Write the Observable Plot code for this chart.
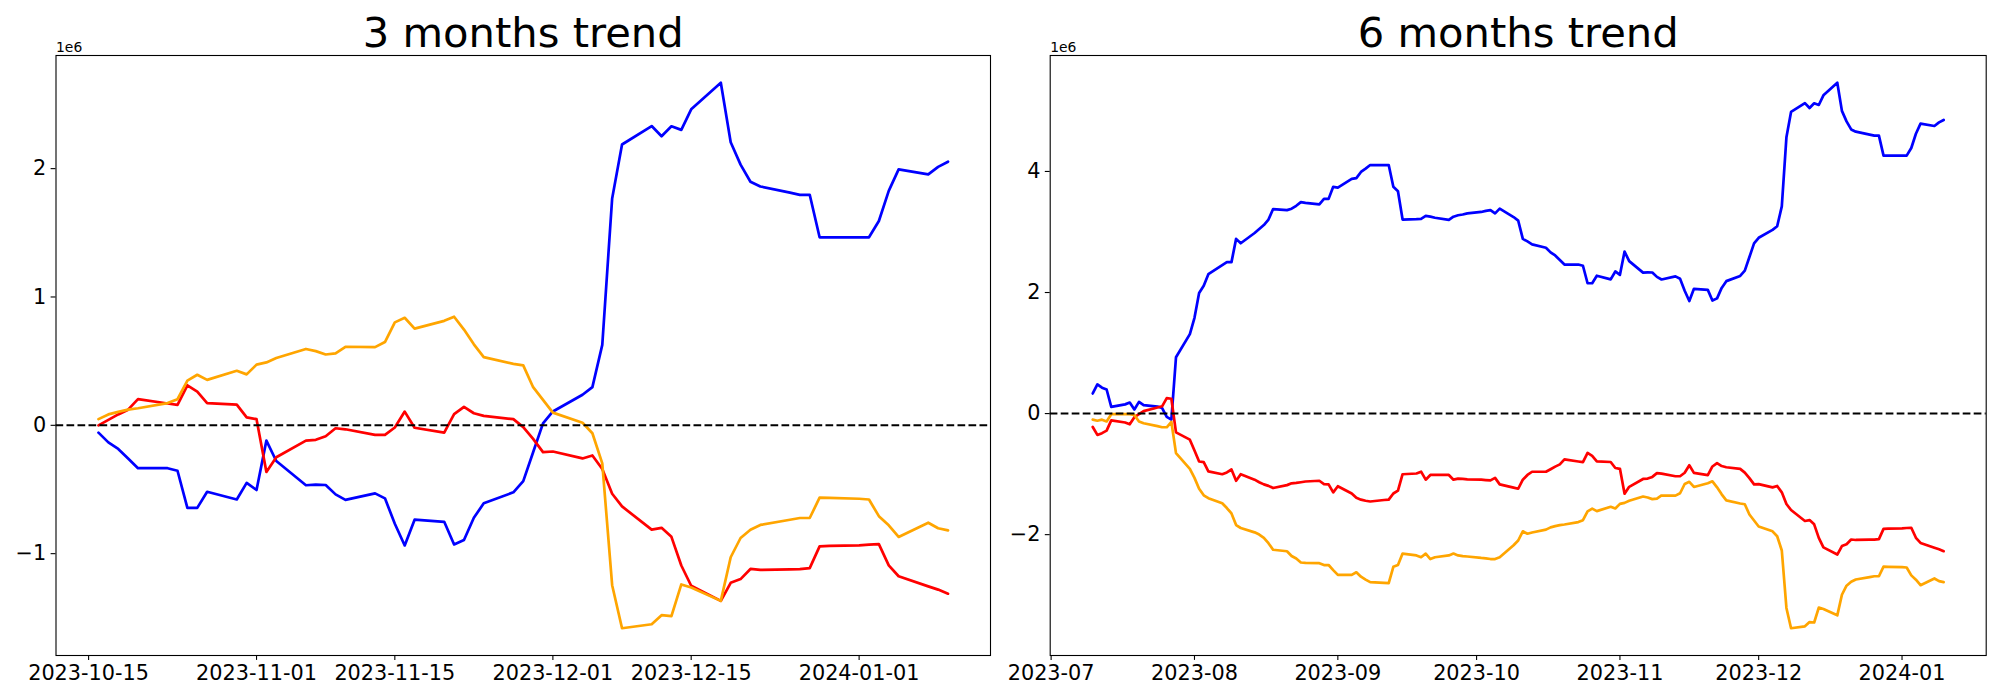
<!DOCTYPE html>
<html><head><meta charset="utf-8">
<script src="https://cdn.jsdelivr.net/npm/d3@7"></script>
<script src="https://cdn.jsdelivr.net/npm/@observablehq/plot@0.6"></script>
<style>
html,body{margin:0;padding:0;background:#fff;}
#wrap{display:flex;width:2000px;height:700px;}
</style></head><body><div id="wrap"></div>
<script>
// ---------- 3 months panel ----------
const dates3 = [
"2023-10-16","2023-10-17","2023-10-18","2023-10-19","2023-10-20",
"2023-10-23","2023-10-24","2023-10-25","2023-10-26","2023-10-27",
"2023-10-30","2023-10-31","2023-11-01","2023-11-02","2023-11-03",
"2023-11-06","2023-11-07","2023-11-08","2023-11-09","2023-11-10",
"2023-11-13","2023-11-14","2023-11-15","2023-11-16","2023-11-17",
"2023-11-20","2023-11-21","2023-11-22","2023-11-23","2023-11-24",
"2023-11-27","2023-11-28","2023-11-29","2023-11-30","2023-12-01",
"2023-12-04","2023-12-05","2023-12-06","2023-12-07","2023-12-08",
"2023-12-11","2023-12-12","2023-12-13","2023-12-14","2023-12-15",
"2023-12-18","2023-12-19","2023-12-20","2023-12-21","2023-12-22",
"2023-12-25","2023-12-26","2023-12-27","2023-12-28","2023-12-29",
"2024-01-01","2024-01-02","2024-01-03","2024-01-04","2024-01-05",
"2024-01-08","2024-01-09","2024-01-10"];
const blue3 = [
-0.057,-0.133,-0.184,-0.258,-0.334,
-0.334,-0.354,-0.643,-0.643,-0.518,
-0.578,-0.448,-0.504,-0.119,-0.278,
-0.467,-0.462,-0.465,-0.538,-0.581,
-0.530,-0.569,-0.767,-0.936,-0.735,
-0.752,-0.928,-0.893,-0.720,-0.608,
-0.522,-0.435,-0.210,0.015,0.108,
0.238,0.298,0.627,1.768,2.188,
2.332,2.252,2.330,2.302,2.462,
2.669,2.205,2.031,1.898,1.861,
1.813,1.796,1.796,1.465,1.465,
1.465,1.465,1.592,1.827,1.994,
1.955,2.014,2.054];
const red3 = [
0.000,0.042,0.085,0.122,0.204,
0.170,0.159,0.312,0.263,0.173,
0.161,0.062,0.048,-0.363,-0.249,
-0.119,-0.113,-0.085,-0.023,-0.031,
-0.074,-0.074,-0.017,0.107,-0.019,
-0.057,0.087,0.143,0.094,0.074,
0.048,-0.014,-0.106,-0.209,-0.204,
-0.258,-0.235,-0.340,-0.533,-0.632,
-0.813,-0.799,-0.869,-1.092,-1.250,
-1.368,-1.227,-1.198,-1.119,-1.127,
-1.122,-1.120,-1.113,-0.943,-0.940,
-0.935,-0.929,-0.926,-1.091,-1.176,
-1.255,-1.280,-1.312];
const orange3 = [
0.048,0.085,0.105,0.122,0.133,
0.173,0.204,0.348,0.394,0.354,
0.425,0.397,0.473,0.490,0.524,
0.595,0.578,0.552,0.561,0.612,
0.609,0.649,0.802,0.838,0.753,
0.814,0.846,0.746,0.631,0.531,
0.479,0.467,0.297,0.198,0.099,
0.020,-0.062,-0.297,-1.246,-1.581,
-1.550,-1.479,-1.486,-1.240,-1.264,
-1.368,-1.028,-0.878,-0.813,-0.776,
-0.736,-0.722,-0.722,-0.564,-0.566,
-0.572,-0.578,-0.708,-0.779,-0.870,
-0.759,-0.802,-0.819];
const xTicks3 = ["2023-10-15","2023-11-01","2023-11-15","2023-12-01","2023-12-15","2024-01-01"];
const yTicks3 = [-1, 0, 1, 2];

// ---------- 6 months panel ----------
const dates6 = [
"2023-07-10","2023-07-11","2023-07-12","2023-07-13","2023-07-14",
"2023-07-17","2023-07-18","2023-07-19","2023-07-20","2023-07-21",
"2023-07-24","2023-07-25","2023-07-26","2023-07-27","2023-07-28",
"2023-07-31","2023-08-01","2023-08-02","2023-08-03","2023-08-04",
"2023-08-07","2023-08-08","2023-08-09","2023-08-10","2023-08-11",
"2023-08-14","2023-08-15","2023-08-16","2023-08-17","2023-08-18",
"2023-08-21","2023-08-22","2023-08-23","2023-08-24","2023-08-25",
"2023-08-28","2023-08-29","2023-08-30","2023-08-31","2023-09-01",
"2023-09-04","2023-09-05","2023-09-06","2023-09-07","2023-09-08",
"2023-09-11","2023-09-12","2023-09-13","2023-09-14","2023-09-15",
"2023-09-18","2023-09-19","2023-09-20","2023-09-21","2023-09-22",
"2023-09-25","2023-09-26","2023-09-27","2023-09-28","2023-09-29",
"2023-10-02","2023-10-03","2023-10-04","2023-10-05","2023-10-06",
"2023-10-09","2023-10-10","2023-10-11","2023-10-12","2023-10-13",
"2023-10-16","2023-10-17","2023-10-18","2023-10-19","2023-10-20",
"2023-10-23","2023-10-24","2023-10-25","2023-10-26","2023-10-27",
"2023-10-30","2023-10-31","2023-11-01","2023-11-02","2023-11-03",
"2023-11-06","2023-11-07","2023-11-08","2023-11-09","2023-11-10",
"2023-11-13","2023-11-14","2023-11-15","2023-11-16","2023-11-17",
"2023-11-20","2023-11-21","2023-11-22","2023-11-23","2023-11-24",
"2023-11-27","2023-11-28","2023-11-29","2023-11-30","2023-12-01",
"2023-12-04","2023-12-05","2023-12-06","2023-12-07","2023-12-08",
"2023-12-11","2023-12-12","2023-12-13","2023-12-14","2023-12-15",
"2023-12-18","2023-12-19","2023-12-20","2023-12-21","2023-12-22",
"2023-12-25","2023-12-26","2023-12-27","2023-12-28","2023-12-29",
"2024-01-01","2024-01-02","2024-01-03","2024-01-04","2024-01-05",
"2024-01-08","2024-01-09","2024-01-10"];
const blue6 = [
0.332,0.483,0.428,0.398,0.110,
0.152,0.182,0.068,0.194,0.140,
0.116,0.092,-0.055,-0.100,0.930,
1.312,1.582,1.991,2.111,2.303,
2.454,2.502,2.502,2.886,2.814,
2.983,3.049,3.115,3.205,3.379,
3.361,3.385,3.433,3.493,3.481,
3.457,3.547,3.547,3.746,3.734,
3.878,3.890,3.992,4.046,4.106,
4.106,4.106,3.746,3.674,3.205,
3.211,3.217,3.265,3.253,3.235,
3.199,3.253,3.277,3.289,3.307,
3.331,3.349,3.361,3.307,3.385,
3.247,3.187,2.886,2.844,2.796,
2.739,2.663,2.612,2.538,2.462,
2.462,2.442,2.153,2.153,2.278,
2.218,2.348,2.292,2.677,2.518,
2.329,2.334,2.331,2.258,2.215,
2.266,2.227,2.029,1.860,2.061,
2.044,1.868,1.903,2.076,2.188,
2.274,2.361,2.586,2.811,2.904,
3.034,3.094,3.423,4.564,4.984,
5.128,5.048,5.126,5.098,5.258,
5.465,5.001,4.827,4.694,4.657,
4.609,4.592,4.592,4.261,4.261,
4.261,4.261,4.388,4.623,4.790,
4.751,4.810,4.850];
const red6 = [
-0.221,-0.353,-0.323,-0.281,-0.112,
-0.148,-0.178,-0.060,-0.010,0.040,
0.100,0.120,0.255,0.245,-0.311,
-0.431,-0.611,-0.791,-0.803,-0.954,
-1.002,-0.972,-0.924,-1.110,-1.002,
-1.092,-1.134,-1.170,-1.194,-1.230,
-1.182,-1.152,-1.146,-1.134,-1.122,
-1.110,-1.164,-1.170,-1.302,-1.200,
-1.320,-1.392,-1.422,-1.440,-1.452,
-1.428,-1.422,-1.320,-1.272,-1.002,
-0.990,-0.960,-1.092,-1.014,-1.014,
-1.014,-1.092,-1.074,-1.080,-1.086,
-1.092,-1.098,-1.104,-1.062,-1.170,
-1.224,-1.242,-1.092,-1.014,-0.961,
-0.961,-0.919,-0.876,-0.839,-0.757,
-0.791,-0.802,-0.649,-0.698,-0.788,
-0.800,-0.899,-0.913,-1.324,-1.210,
-1.080,-1.074,-1.046,-0.984,-0.992,
-1.035,-1.035,-0.978,-0.854,-0.980,
-1.018,-0.874,-0.818,-0.867,-0.887,
-0.913,-0.975,-1.067,-1.170,-1.165,
-1.219,-1.196,-1.301,-1.494,-1.593,
-1.774,-1.760,-1.830,-2.053,-2.211,
-2.329,-2.188,-2.159,-2.080,-2.088,
-2.083,-2.081,-2.074,-1.904,-1.901,
-1.896,-1.890,-1.887,-2.052,-2.137,
-2.216,-2.241,-2.273];
const orange6 = [
-0.100,-0.118,-0.100,-0.130,-0.010,
-0.010,-0.010,-0.022,-0.130,-0.160,
-0.208,-0.226,-0.226,-0.136,-0.653,
-0.912,-1.062,-1.242,-1.350,-1.398,
-1.482,-1.560,-1.650,-1.842,-1.890,
-1.962,-1.998,-2.052,-2.142,-2.250,
-2.274,-2.352,-2.394,-2.460,-2.466,
-2.472,-2.502,-2.502,-2.586,-2.664,
-2.664,-2.622,-2.694,-2.742,-2.784,
-2.796,-2.802,-2.532,-2.502,-2.313,
-2.343,-2.373,-2.313,-2.403,-2.373,
-2.343,-2.313,-2.343,-2.355,-2.361,
-2.385,-2.391,-2.403,-2.403,-2.373,
-2.175,-2.097,-1.945,-1.985,-1.965,
-1.917,-1.880,-1.860,-1.843,-1.832,
-1.792,-1.761,-1.617,-1.571,-1.611,
-1.540,-1.568,-1.492,-1.475,-1.441,
-1.370,-1.387,-1.413,-1.404,-1.353,
-1.356,-1.316,-1.163,-1.127,-1.212,
-1.151,-1.119,-1.219,-1.334,-1.434,
-1.486,-1.498,-1.668,-1.767,-1.866,
-1.945,-2.027,-2.262,-3.211,-3.546,
-3.515,-3.444,-3.451,-3.205,-3.229,
-3.333,-2.993,-2.843,-2.778,-2.741,
-2.701,-2.687,-2.687,-2.529,-2.531,
-2.537,-2.543,-2.673,-2.744,-2.835,
-2.724,-2.767,-2.784];
const xTicks6 = ["2023-07","2023-08","2023-09","2023-10","2023-11","2023-12","2024-01"];
const yTicks6 = [-2, 0, 2, 4];

const titles = ["3 months trend", "6 months trend"];
const offsetLabel = "1e6";

function panel({title, dates, blue, red, orange, xTicks, xFormat, yTicks, marginLeft, marginRight}) {
  const all = [...blue, ...red, ...orange];
  const [lo, hi] = d3.extent(all);
  const yPad = 0.05 * (hi - lo);
  const t0 = new Date(dates[0]), t1 = new Date(dates[dates.length - 1]);
  const xPad = 0.05 * (t1 - t0);
  const rows = s => dates.map((d, i) => ({date: new Date(d), value: s[i]}));
  const fmt = d => d < 0 ? "\u2212" + Math.abs(d) : String(d);
  const lw = 2.7;
  return Plot.plot({
    width: 1000, height: 700,
    marginLeft, marginRight, marginTop: 55, marginBottom: 45,
    style: {fontFamily: "'DejaVu Sans', sans-serif", fontSize: "20.8px", background: "white", overflow: "visible", color: "black"},
    x: {type: "utc", domain: [new Date(+t0 - xPad), new Date(+t1 + xPad)]},
    y: {domain: [lo - yPad, hi + yPad]},
    marks: [
      Plot.line(rows(blue), {x: "date", y: "value", stroke: "#0000ff", strokeWidth: lw}),
      Plot.line(rows(red), {x: "date", y: "value", stroke: "#ff0000", strokeWidth: lw}),
      Plot.line(rows(orange), {x: "date", y: "value", stroke: "#ffa500", strokeWidth: lw}),
      Plot.ruleY([0], {stroke: "black", strokeWidth: 2.08, strokeDasharray: "7.7,3.3"}),
      Plot.frame({stroke: "black", strokeWidth: 1.1}),
      Plot.axisX({ticks: xTicks.map(t => new Date(t)), tickFormat: d3.utcFormat(xFormat), tickSize: 4.9, tickPadding: 5, fontSize: 20.8, label: null, strokeWidth: 1.1}),
      Plot.axisY({ticks: yTicks, tickFormat: fmt, tickSize: 4.9, tickPadding: 4.9, fontSize: 20.8, label: null, strokeWidth: 1.1}),
      Plot.text([title], {text: d => d, frameAnchor: "top", lineAnchor: "bottom", dy: -8.6, fontSize: 41.67}),
      Plot.text([offsetLabel], {text: d => d, frameAnchor: "top-left", textAnchor: "start", lineAnchor: "bottom", dy: -4, fontSize: 13.9})
    ]
  });
}

const wrap = document.getElementById("wrap");
wrap.appendChild(panel({title: titles[0], dates: dates3, blue: blue3, red: red3, orange: orange3,
  xTicks: xTicks3, xFormat: "%Y-%m-%d", yTicks: yTicks3, marginLeft: 55.5, marginRight: 10}));
wrap.appendChild(panel({title: titles[1], dates: dates6, blue: blue6, red: red6, orange: orange6,
  xTicks: xTicks6, xFormat: "%Y-%m", yTicks: yTicks6, marginLeft: 49.7, marginRight: 14.3}));
</script>
</body></html>
